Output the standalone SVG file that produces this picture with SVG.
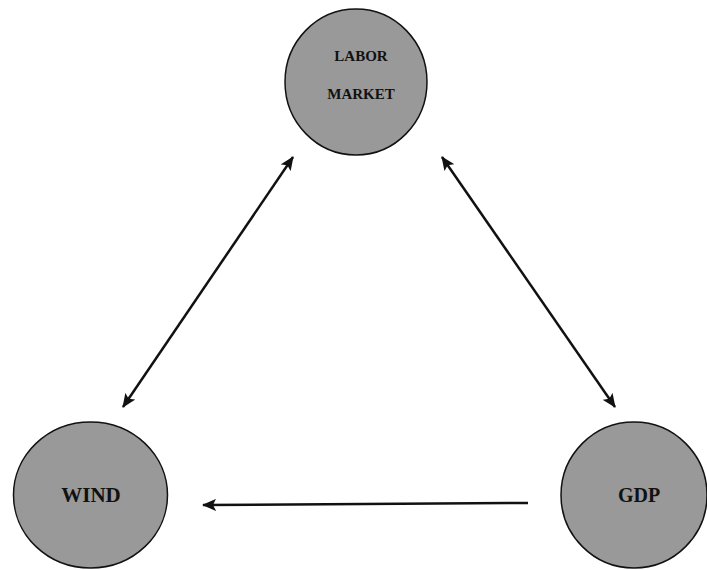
<svg xmlns="http://www.w3.org/2000/svg" width="707" height="570" viewBox="0 0 707 570">
<defs>
<style>
.node ellipse{fill:#999999;stroke:#111;stroke-width:1.5}
.node text{font-family:"Liberation Serif","Times New Roman",serif;font-weight:bold;fill:#111;text-anchor:middle}
.edge{stroke:#111;stroke-width:2.5;fill:none}
</style>
<marker id="ah" viewBox="0 0 14 12" refX="13" refY="6" markerWidth="14" markerHeight="12" markerUnits="userSpaceOnUse" orient="auto-start-reverse">
<path d="M0,0 L14,6 L0,12 L3,6 Z" fill="#111"/>
</marker>
</defs>
<rect width="707" height="570" fill="#fff"/>
<g id="labor-market" class="node">
<ellipse cx="356" cy="82" rx="71" ry="73"/>
<text x="361" y="61" font-size="15">LABOR</text>
<text x="361" y="99" font-size="15">MARKET</text>
</g>
<g id="wind" class="node">
<ellipse cx="90.5" cy="495" rx="77" ry="73"/>
<text x="91" y="502" font-size="21">WIND</text>
</g>
<g id="gdp" class="node">
<ellipse cx="634" cy="495" rx="73" ry="73"/>
<text x="639" y="502" font-size="20">GDP</text>
</g>
<g id="connectors">
<line class="edge" x1="123" y1="407" x2="293" y2="157" marker-start="url(#ah)" marker-end="url(#ah)"/>
<line class="edge" x1="442" y1="157" x2="615" y2="407" marker-start="url(#ah)" marker-end="url(#ah)"/>
<line class="edge" x1="528" y1="503" x2="203" y2="505" marker-end="url(#ah)"/>
</g>
</svg>
